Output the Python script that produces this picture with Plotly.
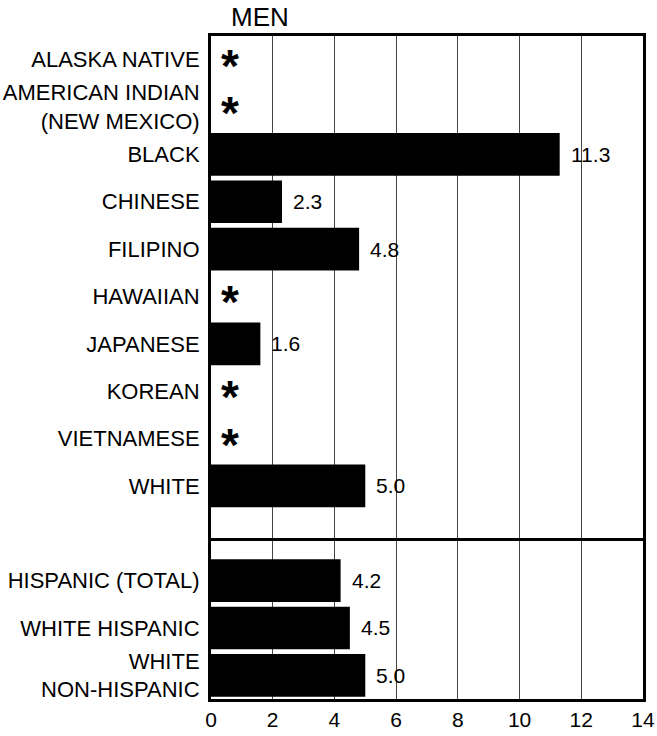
import plotly.graph_objects as go

categories = ["ALASKA NATIVE", "AMERICAN INDIAN<br>(NEW MEXICO)", "BLACK", "CHINESE",
              "FILIPINO", "HAWAIIAN", "JAPANESE", "KOREAN", "VIETNAMESE", "WHITE",
              "HISPANIC (TOTAL)", "WHITE HISPANIC", "WHITE<br>NON-HISPANIC"]
values = [None, None, 11.3, 2.3, 4.8, None, 1.6, None, None, 5.0, 4.2, 4.5, 5.0]
# row slots (slot 10 is the blank gap before the Hispanic group)
rows = [0, 1, 2, 3, 4, 5, 6, 7, 8, 9, 11, 12, 13]
x_ticks = [0, 2, 4, 6, 8, 10, 12, 14]
title = "MEN"
missing_mark = "*"

FONT = "Liberation Sans, Arial, sans-serif"
W, H = 657, 736

fig = go.Figure()
fig.add_trace(go.Bar(
    x=[v if v is not None else 0 for v in values],
    y=rows,
    orientation="h",
    width=0.9,
    marker=dict(color="black", line=dict(width=0)),
    hoverinfo="skip",
))

annotations = []
for r, v in zip(rows, values):
    if v is None:
        annotations.append(dict(x=0.6, y=r, xref="x", yref="y", text="<b>" + missing_mark + "</b>",
                                showarrow=False, xanchor="center", yanchor="middle",
                                yshift=-6, font=dict(family=FONT, size=46, color="black")))
    else:
        annotations.append(dict(x=v, y=r, xref="x", yref="y", text=f"{v:.1f}",
                                showarrow=False, xanchor="left", yanchor="middle",
                                xshift=9, font=dict(family=FONT, size=21, color="black")))

fig.update_layout(
    width=W, height=H,
    margin=dict(l=211, r=14, t=36, b=37, autoexpand=False),
    paper_bgcolor="white", plot_bgcolor="white",
    showlegend=False,
    font=dict(family=FONT, size=21, color="black"),
    title=dict(text=title, x=260 / W, xref="container", xanchor="center",
               y=1 - 17 / H, yref="container", yanchor="middle",
               font=dict(family=FONT, size=26, color="black")),
    annotations=annotations,
    shapes=[dict(type="line", xref="paper", yref="y", x0=0, x1=1, y0=10.13, y1=10.13,
                 line=dict(color="black", width=3), layer="above")],
    xaxis=dict(range=[0, 14], tickvals=x_ticks, ticktext=[str(t) for t in x_ticks],
               showgrid=True, gridcolor="#444444", gridwidth=1, zeroline=False,
               showline=True, mirror=True, linecolor="black", linewidth=3,
               ticks="", tickfont=dict(size=21, family=FONT, color="black")),
    yaxis=dict(range=[13.5, -0.5], tickvals=rows, ticktext=categories,
               showgrid=False, zeroline=False,
               showline=True, mirror=True, linecolor="black", linewidth=3,
               ticks="", ticklabelstandoff=4,
               tickfont=dict(size=22, family=FONT, color="black")),
)

fig.write_html("out.html", config={"displayModeBar": False},
               post_script="document.body.style.margin='0';document.body.style.overflow='hidden';")
